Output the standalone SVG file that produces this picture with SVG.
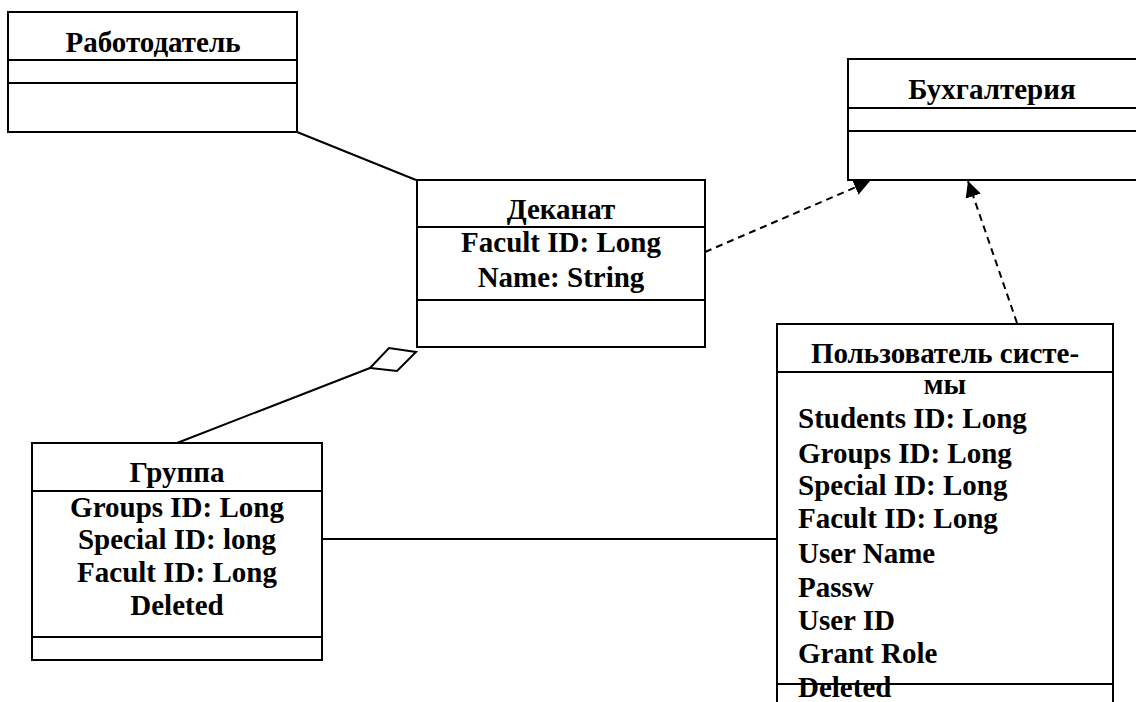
<svg xmlns="http://www.w3.org/2000/svg" width="1136" height="702" viewBox="0 0 1136 702">
<style>
.box{fill:#fff;stroke:#000;stroke-width:2}
.div{stroke:#000;stroke-width:2}
.t{font-family:"Liberation Serif","Times New Roman",serif;font-weight:bold;font-size:29px;fill:#000}
.c{text-anchor:middle}
.ln{fill:none;stroke:#000;stroke-width:2}
.dash{fill:none;stroke:#000;stroke-width:2;stroke-dasharray:7 5}
</style>
<defs>
<marker id="arr" viewBox="0 0 10 10" refX="10" refY="5" markerWidth="16" markerHeight="16" markerUnits="userSpaceOnUse" orient="auto">
<path d="M0,0 L10,5 L0,10 z" fill="#000"/>
</marker>
</defs>
<rect width="1136" height="702" fill="#fff"/>
<g id="connectors">
<line class="ln" x1="297" y1="132" x2="416" y2="180"/>
<line class="ln" x1="177" y1="443" x2="370" y2="368"/>
<polygon class="ln" points="370,368 389,348 416,352 397,371" fill="#fff"/>
<line class="ln" x1="322" y1="539" x2="777" y2="539"/>
<line class="dash" x1="705" y1="252" x2="870" y2="181" marker-end="url(#arr)"/>
<line class="dash" x1="1017" y1="323" x2="968" y2="181" marker-end="url(#arr)"/>
</g>
<g id="employer">
<rect class="box" x="8" y="12" width="289" height="120"/>
<line class="div" x1="8" y1="60" x2="297" y2="60"/>
<line class="div" x1="8" y1="83" x2="297" y2="83"/>
<text class="t c" x="153" y="52">Работодатель</text>
</g>
<g id="accounting">
<rect class="box" x="848" y="59" width="300" height="121"/>
<line class="div" x1="848" y1="108" x2="1148" y2="108"/>
<line class="div" x1="848" y1="131" x2="1148" y2="131"/>
<text class="t c" x="992" y="99">Бухгалтерия</text>
</g>
<g id="dean">
<rect class="box" x="417" y="180" width="288" height="167"/>
<line class="div" x1="417" y1="227" x2="705" y2="227"/>
<line class="div" x1="417" y1="300" x2="705" y2="300"/>
<text class="t c" x="561" y="219">Деканат</text>
<text class="t c" x="561" y="252">Facult ID: Long</text>
<text class="t c" x="561" y="287">Name: String</text>
</g>
<g id="group">
<rect class="box" x="32" y="443" width="290" height="217"/>
<line class="div" x1="32" y1="491" x2="322" y2="491"/>
<line class="div" x1="32" y1="637" x2="322" y2="637"/>
<text class="t c" x="177" y="482">Группа</text>
<text class="t c" x="177" y="517">Groups ID: Long</text>
<text class="t c" x="177" y="549">Special ID: long</text>
<text class="t c" x="177" y="582">Facult ID: Long</text>
<text class="t c" x="177" y="615">Deleted</text>
</g>
<g id="user">
<rect class="box" x="777" y="324" width="336" height="400"/>
<line class="div" x1="777" y1="372" x2="1113" y2="372"/>
<line class="div" x1="777" y1="684" x2="1113" y2="684"/>
<text class="t c" x="945" y="363">Пользователь систе-</text>
<text class="t c" x="945" y="394">мы</text>
<text class="t" x="798" y="428">Students ID: Long</text>
<text class="t" x="798" y="463">Groups ID: Long</text>
<text class="t" x="798" y="495">Special ID: Long</text>
<text class="t" x="798" y="528">Facult ID: Long</text>
<text class="t" x="798" y="563">User Name</text>
<text class="t" x="798" y="597">Passw</text>
<text class="t" x="798" y="630">User ID</text>
<text class="t" x="798" y="663">Grant Role</text>
<text class="t" x="798" y="697">Deleted</text>
</g>
</svg>
